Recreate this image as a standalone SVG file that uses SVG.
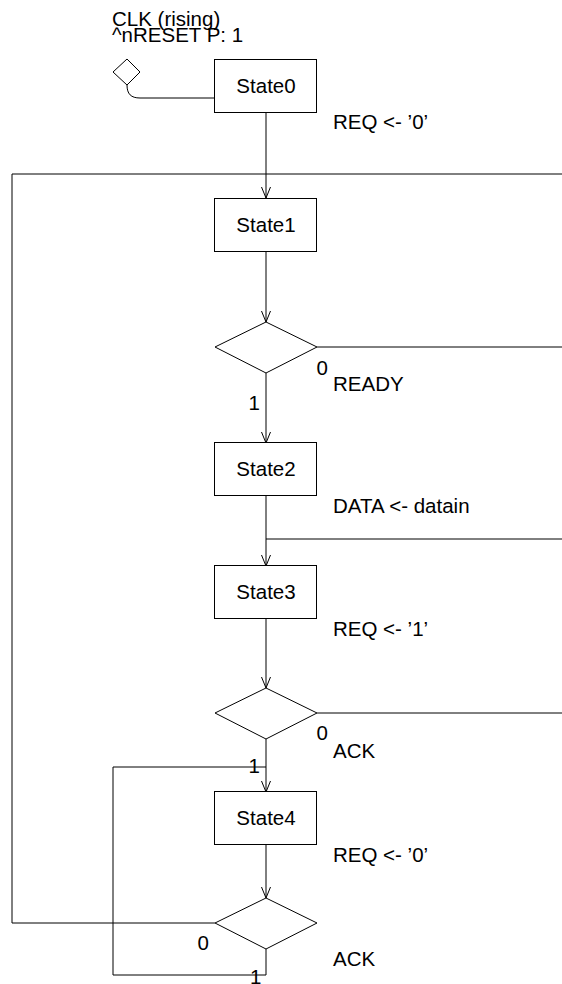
<svg xmlns="http://www.w3.org/2000/svg" width="562" height="984" viewBox="0 0 562 984">
  <style>
    .t { font-family: "Liberation Sans", Arial, sans-serif; font-size: 20.5px; fill: #000; }
    .c { text-anchor: middle; }
    .box { fill: #fff; stroke: #000; stroke-width: 1; }
    .ln { fill: none; stroke: #000; stroke-width: 1; }
  </style>
  <defs>
    <marker id="arr" markerUnits="userSpaceOnUse" markerWidth="14" markerHeight="12" viewBox="-12 -6 14 12" refX="0" refY="0" orient="auto" overflow="visible">
      <path d="M-11,-4.5 L0,0 L-11,4.5" fill="none" stroke="#000" stroke-width="1"/>
    </marker>
  </defs>
  <rect width="562" height="984" fill="#fff"/>

  <g id="connectors" class="ln">
    <path class="ln" d="M127,85 C127,94 131,98 140,98 L215,98"/>
    <path class="ln" d="M266,112 L266,198" marker-end="url(#arr)"/>
    <path class="ln" d="M215,923 L12,923 L12,174 L266,174"/>
    <path class="ln" d="M562,174 L266,174"/>
    <path class="ln" d="M266,252 L266,322" marker-end="url(#arr)"/>
    <path class="ln" d="M317,347 L562,347"/>
    <path class="ln" d="M266,373 L266,443" marker-end="url(#arr)"/>
    <path class="ln" d="M266,495 L266,566" marker-end="url(#arr)"/>
    <path class="ln" d="M562,539 L266,539"/>
    <path class="ln" d="M266,619 L266,688" marker-end="url(#arr)"/>
    <path class="ln" d="M317,713 L562,713"/>
    <path class="ln" d="M266,739 L266,792" marker-end="url(#arr)"/>
    <path class="ln" d="M266,845 L266,898" marker-end="url(#arr)"/>
    <path class="ln" d="M266,949 L266,975 L113,975 L113,767 L266,767"/>
  </g>

  <g id="reset">
    <polygon class="box" points="127,59 140,72 127,85 113,72"/>
    <text class="t" x="112" y="25.5">CLK (rising)</text>
    <text class="t" x="112" y="42">^nRESET P: 1</text>
  </g>

  <g id="State0">
    <rect class="box" x="214.5" y="59.5" width="102" height="53"/>
    <text class="t c" x="266" y="93">State0</text>
    <text class="t" x="333" y="129">REQ &lt;- ’0’</text>
  </g>

  <g id="State1">
    <rect class="box" x="214.5" y="198.5" width="102" height="53"/>
    <text class="t c" x="266" y="232">State1</text>
  </g>

  <g id="Cond1">
    <polygon class="box" points="266,322 317,347 266,373 215,347"/>
    <text class="t" x="316.5" y="375">0</text>
    <text class="t" x="333" y="391">READY</text>
    <text class="t" x="248.5" y="410">1</text>
  </g>

  <g id="State2">
    <rect class="box" x="214.5" y="442.5" width="102" height="53"/>
    <text class="t c" x="266" y="476">State2</text>
    <text class="t" x="333" y="513">DATA &lt;- datain</text>
  </g>

  <g id="State3">
    <rect class="box" x="214.5" y="565.5" width="102" height="53"/>
    <text class="t c" x="266" y="599">State3</text>
    <text class="t" x="333" y="636">REQ &lt;- ’1’</text>
  </g>

  <g id="Cond2">
    <polygon class="box" points="266,688 317,713 266,739 215,713"/>
    <text class="t" x="316.5" y="740">0</text>
    <text class="t" x="333" y="758">ACK</text>
    <text class="t" x="248.5" y="773">1</text>
  </g>

  <g id="State4">
    <rect class="box" x="214.5" y="791.5" width="102" height="53"/>
    <text class="t c" x="266" y="825">State4</text>
    <text class="t" x="333" y="862">REQ &lt;- ’0’</text>
  </g>

  <g id="Cond3">
    <polygon class="box" points="266,898 317,923 266,949 215,923"/>
    <text class="t" x="197.5" y="950">0</text>
    <text class="t" x="333" y="966">ACK</text>
    <text class="t" x="250" y="984">1</text>
  </g>
</svg>
